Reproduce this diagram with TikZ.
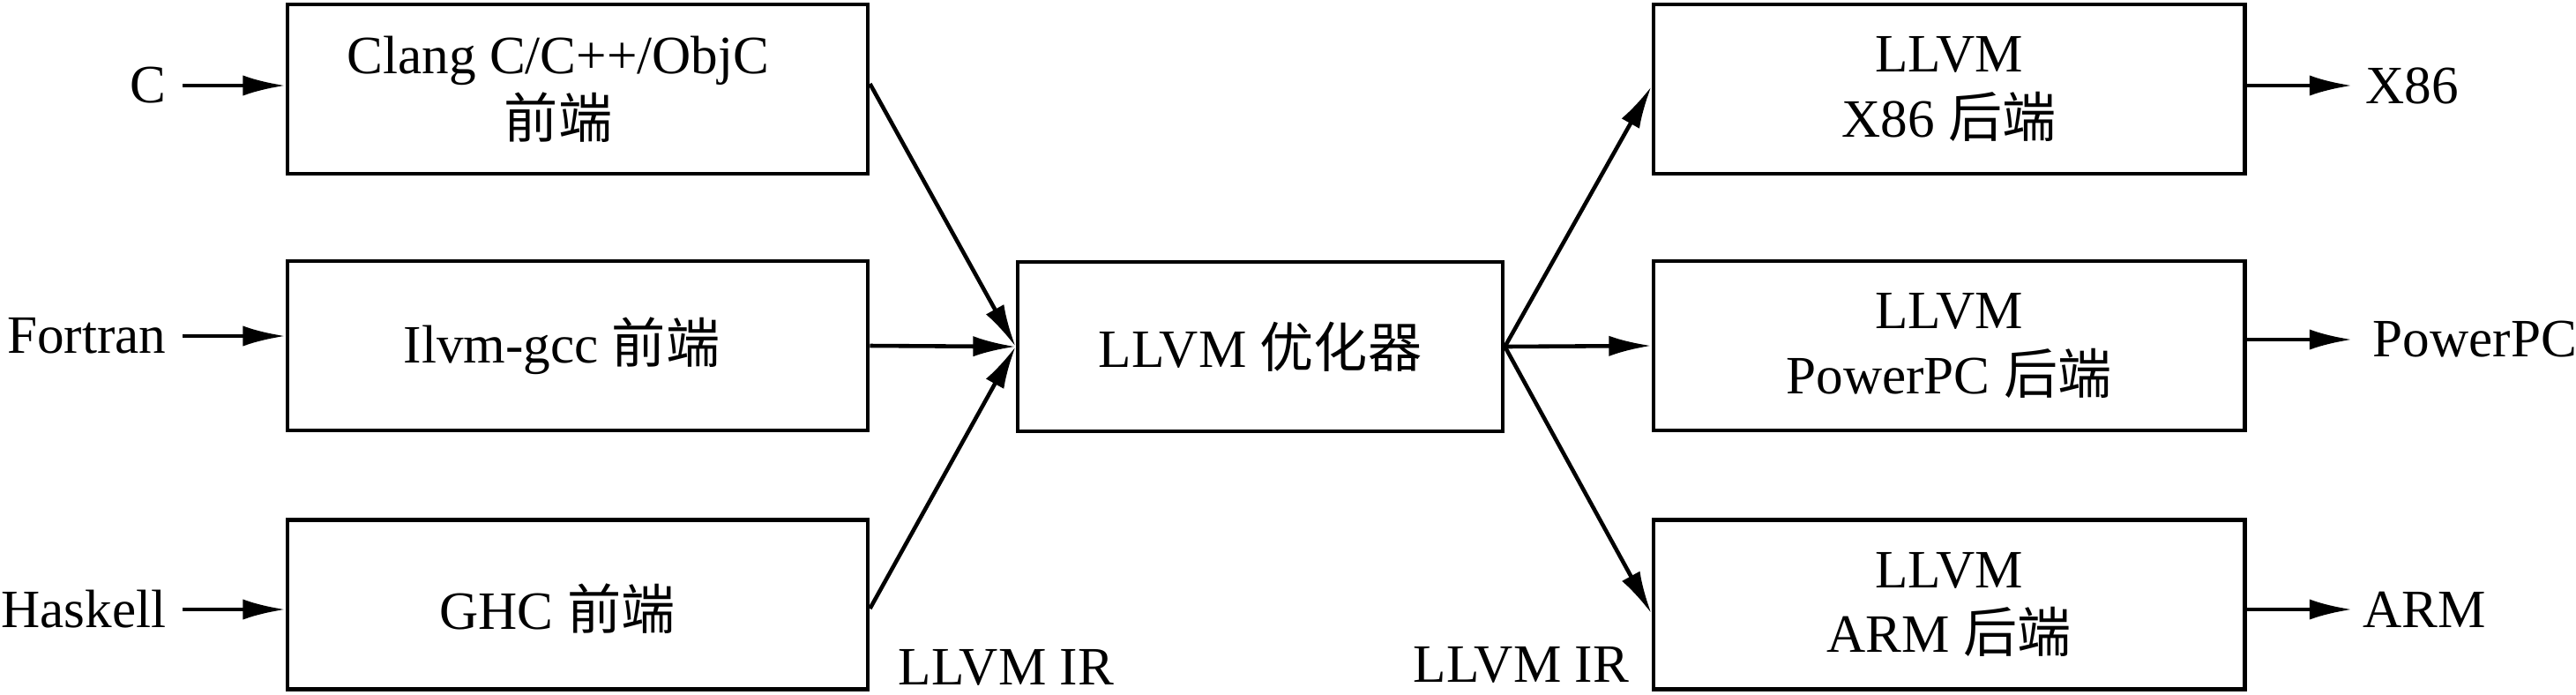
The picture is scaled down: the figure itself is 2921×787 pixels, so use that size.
\documentclass[tikz,border=0pt]{standalone}
\usepackage{fontspec}
\setmainfont{Liberation Serif}
\newfontfamily\cjk{Noto Sans CJK SC}
\usetikzlibrary{arrows.meta,calc}
\begin{document}
\begin{tikzpicture}[x=0.01cm,y=-0.01cm,
  every node/.style={font=\fontsize{17.4pt}{20.8pt}\selectfont},
  boxbase/.style={draw,line width=1.3pt,minimum height=1.92cm,inner sep=0pt,align=center},
  lbox/.style={boxbase,minimum width=6.58cm},
  mbox/.style={boxbase,minimum width=5.50cm},
  rbox/.style={boxbase,minimum width=6.70cm},
  arr/.style={line width=1.3pt,-{Latex[length=13.7pt,width=6.6pt]}},
  lbl/.style={inner sep=0pt},
  txt/.style={align=center,inner sep=0pt}
]
\useasboundingbox (0,0) rectangle (2921,787);

% left boxes
\node[lbox] (l1) at (655,101) {};
\node[lbox] (l2) at (655,392) {};
\node[lbox] (l3) at (655,685.5) {};
\node[txt] (t1) at (633,101) {Clang C/C++/ObjC\\{\cjk 前端}};
\node[txt] (t2) at (637,392) {Ilvm-gcc {\cjk 前端}};
\node[txt] (t3) at (632,690) {GHC {\cjk 前端}};

% middle
\node[mbox] (m) at (1429,393) {LLVM {\cjk 优化器}};

% right boxes
\node[rbox] (r1) at (2210,101) {LLVM\\X86 {\cjk 后端}};
\node[rbox] (r2) at (2210,392) {LLVM\\PowerPC {\cjk 后端}};
\node[rbox] (r3) at (2210,685.5) {LLVM\\ARM {\cjk 后端}};

% input labels
\node[lbl,anchor=east] (cin) at (189,97) {C};
\node[lbl,anchor=east] (fin) at (189,381) {Fortran};
\node[lbl,anchor=east] (hin) at (189,691) {Haskell};

% output labels
\node[lbl,anchor=west] (x86) at (2682,97) {X86};
\node[lbl,anchor=west] (ppc) at (2690,385) {PowerPC};
\node[lbl,anchor=west] (arm) at (2679,691) {ARM};

% IR labels
\node[lbl,anchor=base west] (ir1) at (1018,776) {LLVM IR};
\node[lbl,anchor=base west] (ir2) at (1602,773) {LLVM IR};

% input arrows
\draw[arr] ([xshift=0.18cm]cin.east) -- (cin.east -| l1.west);
\draw[arr] ([xshift=0.18cm]fin.east) -- (fin.east -| l2.west);
\draw[arr] ([xshift=0.18cm]hin.east) -- (hin.east -| l3.west);

% to optimizer
\draw[arr] ([yshift=0.06cm]l1.east) -- (m.west);
\draw[arr] (l2.east) -- (m.west);
\draw[arr] ([yshift=-0.045cm]l3.east) -- (m.west);

% from optimizer
\draw[arr] (m.east) -- ([yshift=0.03cm]r1.west);
\draw[arr] (m.east) -- (r2.west);
\draw[arr] (m.east) -- ([yshift=-0.1cm]r3.west);

% outputs
\draw[arr] (r1.east |- x86.west) -- ([xshift=-0.15cm]x86.west);
\draw[arr] (r2.east |- ppc.west) -- ([xshift=-0.23cm]ppc.west);
\draw[arr] (r3.east |- arm.west) -- ([xshift=-0.12cm]arm.west);
\end{tikzpicture}
\end{document}
